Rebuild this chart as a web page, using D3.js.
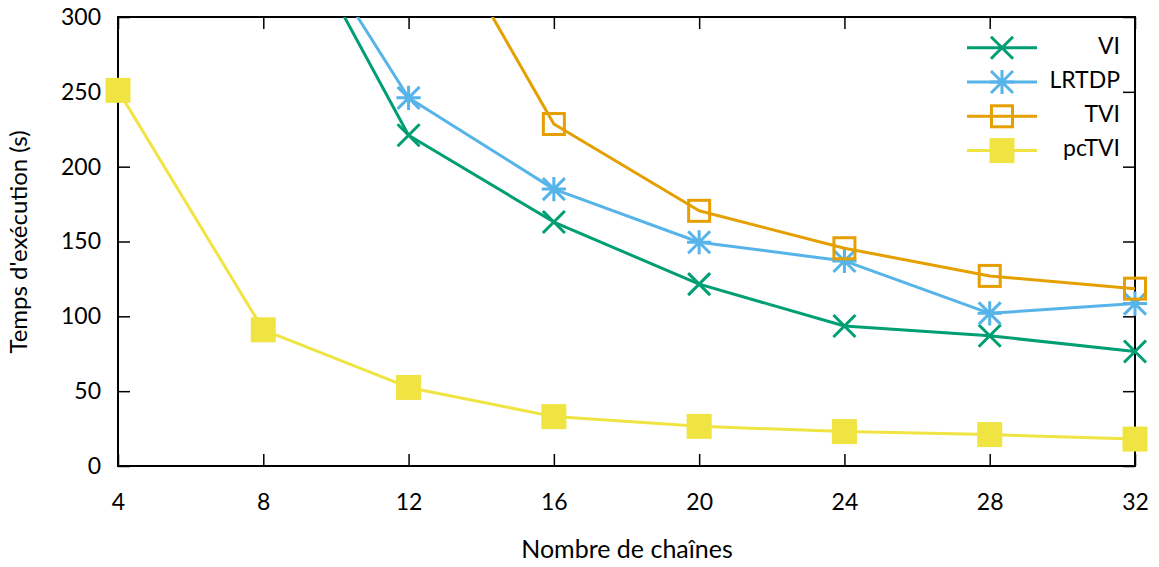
<!DOCTYPE html>
<html>
<head>
<meta charset="utf-8">
<script src="https://cdn.jsdelivr.net/npm/d3@7"></script>
<style>
  body { margin: 0; background: #fff; }
  text { font-family: Lato, "DejaVu Sans", sans-serif; fill: #000; }
</style>
</head>
<body>
<svg id="chart" width="1159" height="567"></svg>
<script>
// chain counts on the x axis
const chains = [4, 8, 12, 16, 20, 24, 28, 32];
// run times (s), null where the series has no point
const vi    = [null, 400, 221, 163, 121.5, 93.5, 87, 76.5];
const lrtdp = [null, 400, 246, 185, 149.5, 137, 102, 108.5];
const tvi   = [null, null, 398, 228.5, 170.5, 145.5, 127, 118.5];
const pctvi = [251, 91, 52.5, 33, 26.5, 23, 21, 18];

const xTicks = [4, 8, 12, 16, 20, 24, 28, 32];
const yTicks = [0, 50, 100, 150, 200, 250, 300];

const seriesNames = ["VI", "LRTDP", "TVI", "pcTVI"];
const seriesValues = [vi, lrtdp, tvi, pctvi];
const colors = ["#009e73", "#56b4e9", "#e69f00", "#f0e442"];
const markers = ["cross", "star", "openSquare", "filledSquare"];

const margin = {left: 118, right: 1159 - 1135, top: 17, bottom: 567 - 466};
const width = 1159, height = 567;
const fontSize = "23px";

const svg = d3.select("#chart");

const x = d3.scaleLinear().domain([4, 32]).range([margin.left, width - margin.right]);
const y = d3.scaleLinear().domain([0, 300]).range([height - margin.bottom, margin.top]);

svg.append("clipPath").attr("id", "plotClip")
  .append("rect")
  .attr("x", x(4)).attr("y", y(300))
  .attr("width", x(32) - x(4)).attr("height", y(0) - y(300));

// axes, ticks pointing inward and mirrored on the opposite sides
const tickLen = 12;
const xBottom = svg.append("g")
  .attr("transform", `translate(0,${y(0)})`)
  .call(d3.axisBottom(x).tickValues(xTicks).tickSizeInner(-tickLen).tickSizeOuter(0).tickPadding(28));
const xTop = svg.append("g")
  .attr("transform", `translate(0,${y(300)})`)
  .call(d3.axisTop(x).tickValues(xTicks).tickSizeInner(-tickLen).tickSizeOuter(0).tickFormat(""));
const yLeft = svg.append("g")
  .attr("transform", `translate(${x(4)},0)`)
  .call(d3.axisLeft(y).tickValues(yTicks).tickSizeInner(-tickLen).tickSizeOuter(0).tickPadding(17));
const yRight = svg.append("g")
  .attr("transform", `translate(${x(32)},0)`)
  .call(d3.axisRight(y).tickValues(yTicks).tickSizeInner(-tickLen).tickSizeOuter(0).tickFormat(""));

[xBottom, xTop, yLeft, yRight].forEach(g => {
  g.select(".domain").remove();
  g.selectAll(".tick line").attr("stroke", "#000").attr("stroke-width", 1.5);
  g.selectAll("text").style("font-size", fontSize).style("font-family", "Lato, sans-serif");
});
xBottom.selectAll("text").attr("dy", "0.71em");

svg.append("rect")
  .attr("x", x(4)).attr("y", y(300))
  .attr("width", x(32) - x(4)).attr("height", y(0) - y(300))
  .attr("fill", "none").attr("stroke", "#000").attr("stroke-width", 2);

// axis titles
svg.append("text")
  .attr("x", 627).attr("y", 552)
  .attr("text-anchor", "middle").attr("dominant-baseline", "middle")
  .style("font-size", "25px")
  .text("Nombre de chaînes");
svg.append("text")
  .attr("transform", "translate(21,242) rotate(-90)")
  .attr("text-anchor", "middle").attr("dominant-baseline", "middle")
  .style("font-size", "24px")
  .text("Temps d'exécution (s)");

function drawMarker(g, kind, color, cx, cy) {
  const s = 11;
  if (kind === "cross") {
    g.append("path")
      .attr("d", `M${cx - s},${cy - s}L${cx + s},${cy + s}M${cx - s},${cy + s}L${cx + s},${cy - s}`)
      .attr("stroke", color).attr("stroke-width", 3).attr("fill", "none");
  } else if (kind === "star") {
    g.append("path")
      .attr("d", `M${cx - s},${cy - s}L${cx + s},${cy + s}M${cx - s},${cy + s}L${cx + s},${cy - s}` +
                 `M${cx},${cy - s * 1.1}L${cx},${cy + s * 1.1}M${cx - s * 1.1},${cy}L${cx + s * 1.1},${cy}`)
      .attr("stroke", color).attr("stroke-width", 3).attr("fill", "none");
  } else if (kind === "openSquare") {
    g.append("rect")
      .attr("x", cx - 10.5).attr("y", cy - 10.5).attr("width", 21).attr("height", 21)
      .attr("stroke", color).attr("stroke-width", 3).attr("fill", "none");
  } else {
    g.append("rect")
      .attr("x", cx - 12.5).attr("y", cy - 12.5).attr("width", 25).attr("height", 25)
      .attr("fill", color);
  }
}

const line = d3.line()
  .defined(d => d[1] != null)
  .x(d => x(d[0])).y(d => y(d[1]));

seriesValues.forEach((vals, i) => {
  const pts = chains.map((c, j) => [c, vals[j]]);
  svg.append("path")
    .datum(pts)
    .attr("clip-path", "url(#plotClip)")
    .attr("d", line)
    .attr("fill", "none").attr("stroke", colors[i]).attr("stroke-width", 3)
    .attr("stroke-linejoin", "round");
  const g = svg.append("g");
  pts.filter(d => d[1] != null && d[1] <= 300)
    .forEach(d => drawMarker(g, markers[i], colors[i], x(d[0]), y(d[1])));
});

// legend
const legend = svg.append("g");
seriesNames.forEach((name, i) => {
  const ly = 47.7 + i * 34.3;
  legend.append("line")
    .attr("x1", 967).attr("x2", 1037).attr("y1", ly).attr("y2", ly)
    .attr("stroke", colors[i]).attr("stroke-width", 3);
  drawMarker(legend, markers[i], colors[i], 1002, ly);
  legend.append("text")
    .attr("x", 1120).attr("y", ly)
    .attr("text-anchor", "end").attr("dominant-baseline", "middle")
    .style("font-size", fontSize)
    .text(name);
});
</script>
</body>
</html>
